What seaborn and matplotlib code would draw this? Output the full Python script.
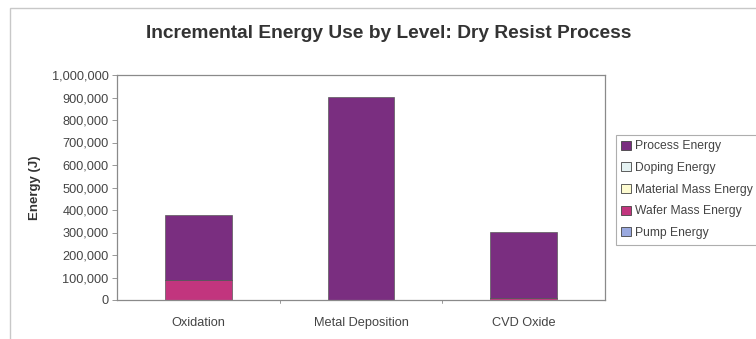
import matplotlib
matplotlib.use("Agg")
import matplotlib.pyplot as plt
from matplotlib.patches import Rectangle, Patch
from matplotlib.ticker import FuncFormatter, FixedLocator
import seaborn as sns
import numpy as np

# Process levels and energy contributions (J), stacked bottom to top
levels = ["Oxidation", "Metal Deposition", "CVD Oxide"]
pump_energy = [0, 0, 0]
wafer_mass_energy = [89000, 0, 10000]
material_mass_energy = [0, 0, 0]
doping_energy = [0, 0, 0]
process_energy = [290000, 902000, 294000]

series_names = ["Pump Energy", "Wafer Mass Energy", "Material Mass Energy",
                "Doping Energy", "Process Energy"]
series_values = [pump_energy, wafer_mass_energy, material_mass_energy,
                 doping_energy, process_energy]
series_colors = ["#9aa9df", "#c2357e", "#fdfbd0", "#e6f3f3", "#7a2e80"]

sns.set_theme(style="white")
plt.rcParams["font.family"] = ["Liberation Sans", "DejaVu Sans"]

fig = plt.figure(figsize=(7.56, 3.39), dpi=100)
ax = fig.add_axes([117 / 756, 39 / 339, 488 / 756, 225 / 339])

# outer chart frame
fig.patches.append(Rectangle((10 / 756, -0.1), 1.2, (331 / 339) + 0.1,
                             transform=fig.transFigure, fill=False,
                             edgecolor="#c8c8c8", lw=1.0, zorder=0))

bottom = np.zeros(len(levels))
for name, vals, col in zip(series_names, series_values, series_colors):
    sns.barplot(x=levels, y=vals, bottom=bottom, color=col, ax=ax,
                width=0.41, edgecolor="#5a5a5a", linewidth=0.5,
                saturation=1, errorbar=None)
    bottom = bottom + np.array(vals)

ax.set_xlim(-0.5, 2.5)
ax.set_ylim(0, 1000000)
ax.yaxis.set_major_locator(FixedLocator(np.arange(0, 1000001, 100000)))
ax.yaxis.set_major_formatter(FuncFormatter(lambda v, p: f"{int(v):,}"))
ax.set_xticks([0, 1, 2])
ax.set_xticklabels(levels)
ax.tick_params(axis="x", length=0, labelsize=9.2, labelcolor="#444444", pad=12)
ax.tick_params(axis="y", length=3.5, width=0.6, color="#888888", labelsize=9.2,
               labelcolor="#444444", pad=2.5, left=True, direction="out")
# category separators on the x axis
for b in [0.5, 1.5]:
    ax.plot([b, b], [0, -0.012], transform=ax.get_xaxis_transform(),
            color="#888888", lw=0.6, clip_on=False)

for s in ax.spines.values():
    s.set_color("#8a8a8a")
    s.set_linewidth(0.9)

ax.set_xlabel("")
ax.set_ylabel("Energy (J)", fontsize=9.5, fontweight="bold", color="#333333",
              labelpad=8)

fig.text(0.514, (339 - 33) / 339, "Incremental Energy Use by Level: Dry Resist Process",
         ha="center", va="center", fontsize=13.8, fontweight="bold", color="#333333")

handles = [Patch(facecolor=c, edgecolor="#444444", linewidth=0.6, label=n)
           for n, c in zip(series_names[::-1], series_colors[::-1])]
leg = fig.legend(handles=handles, loc="upper left",
                 bbox_to_anchor=(616 / 756, (339 - 135) / 339),
                 fontsize=8.7, frameon=True, fancybox=False,
                 handlelength=0.75, handleheight=0.75, handletextpad=0.35,
                 labelspacing=0.8, borderpad=0.45, borderaxespad=0)
leg.get_frame().set_edgecolor("#9a9a9a")
leg.get_frame().set_linewidth(0.8)
for t in leg.get_texts():
    t.set_color("#444444")

fig.savefig("out.png", dpi=100)
